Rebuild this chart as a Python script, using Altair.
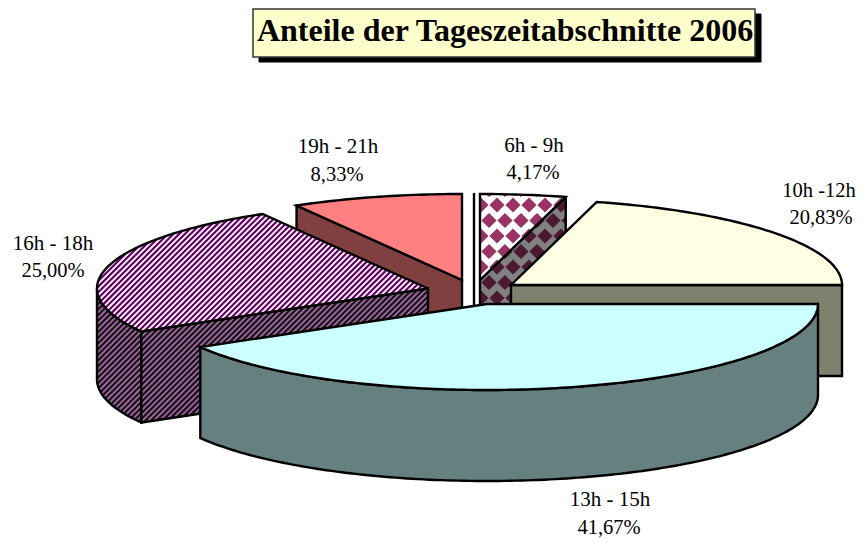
import numpy as np
import altair as alt

# ---- chart values ----
periods = ["6h - 9h", "10h -12h", "13h - 15h", "16h - 18h", "19h - 21h"]
shares = [4.17, 20.83, 41.67, 25.00, 8.33]
share_labels = ["4,17%", "20,83%", "41,67%", "25,00%", "8,33%"]
title_text = "Anteile der Tageszeitabschnitte 2006"

# ---- layout (image pixels) ----
OX, OY = 8, 8
RX, RY, DEPTH = 331, 86, 91
apex = [(480, 280), (511, 285), (487, 304), (428, 288.5), (462, 280)]
label_xy = [(534, 146), (819, 191), (610, 500), (53, 244), (338, 147)]
pct_xy = [(533, 173), (821, 218), (609, 528), (53, 271), (337, 174.5)]
top_fill = ["#FFFFFF", "#FFFFE3", "#CCFFFF", "#FFFFFF", "#FF8080"]
side_fill = ["#808080", "#80806F", "#668080", "#808080", "#804040"]
edges = np.cumsum([0] + shares) / sum(shares) * 360
LW = 2.4


def pt(i, deg, drop=0):
    a = np.radians(deg)
    return (apex[i][0] + RX * np.sin(a), apex[i][1] - RY * np.cos(a) + drop)


def arc(i, d0, d1, drop=0):
    n = max(2, int(abs(d1 - d0)) + 1)
    return [pt(i, d, drop) for d in np.linspace(d0, d1, n)]


def top(i):
    return [apex[i]] + arc(i, edges[i], edges[i + 1])


def wall(i, d0, d1):
    return arc(i, d0, d1) + arc(i, d1, d0, DEPTH)


def cut(i, deg):
    p = pt(i, deg)
    a = apex[i]
    return [p, a, (a[0], a[1] + DEPTH), (p[0], p[1] + DEPTH)]


def shift(pts):
    return [[float(x - OX), float(y - OY)] for x, y in pts]


features = []


def poly(pts, fill, stroke="#000000", sw=LW):
    p = shift(pts)
    features.append({"type": "Feature",
                     "geometry": {"type": "Polygon", "coordinates": [p + [p[0]]]},
                     "properties": {"fill": fill, "stroke": stroke, "sw": sw}})


def multipoly(polys, fill):
    cs = [[shift(p) + [shift(p)[0]]] for p in polys if len(p) > 2]
    features.append({"type": "Feature",
                     "geometry": {"type": "MultiPolygon", "coordinates": cs},
                     "properties": {"fill": fill, "stroke": "transparent", "sw": 0}})


def outline(pts, closed=True):
    p = shift(pts)
    if closed:
        p = p + [p[0]]
    features.append({"type": "Feature",
                     "geometry": {"type": "LineString", "coordinates": p},
                     "properties": {"fill": "transparent", "stroke": "#000000", "sw": LW}})


def hatch(pts, color, pitch=5.66, width=2.2):
    """45 degree stripes clipped to a polygon (even-odd)."""
    arr = np.array(pts, dtype=float)
    s = arr[:, 0] + arr[:, 1]
    segs = []
    for c in np.arange(np.floor(s.min() / pitch) * pitch, s.max() + pitch, pitch):
        hits = []
        for k in range(len(arr)):
            a, b = arr[k], arr[(k + 1) % len(arr)]
            sa, sb = a.sum() - c, b.sum() - c
            if sa * sb < 0:
                t = sa / (sa - sb)
                hits.append(tuple(a + t * (b - a)))
        hits.sort()
        for h in range(0, len(hits) - 1, 2):
            segs.append(shift([hits[h], hits[h + 1]]))
    features.append({"type": "Feature",
                     "geometry": {"type": "MultiLineString", "coordinates": segs},
                     "properties": {"fill": "transparent", "stroke": color, "sw": width}})


def clip_convex(subject, clipper):
    arr = np.array(clipper, dtype=float)
    area = 0.5 * np.sum(arr[:, 0] * np.roll(arr[:, 1], -1) - np.roll(arr[:, 0], -1) * arr[:, 1])
    sign = 1 if area > 0 else -1
    out = list(subject)
    for k in range(len(arr)):
        a, b = arr[k], arr[(k + 1) % len(arr)]
        inside = lambda q: sign * ((b[0] - a[0]) * (q[1] - a[1]) - (b[1] - a[1]) * (q[0] - a[0])) >= 0
        new = []
        for m in range(len(out)):
            p, q = np.array(out[m]), np.array(out[(m + 1) % len(out)])
            ip, iq = inside(p), inside(q)
            if ip:
                new.append(tuple(p))
            if ip != iq:
                dp = sign * ((b[0] - a[0]) * (p[1] - a[1]) - (b[1] - a[1]) * (p[0] - a[0]))
                dq = sign * ((b[0] - a[0]) * (q[1] - a[1]) - (b[1] - a[1]) * (q[0] - a[0]))
                new.append(tuple(p + dp / (dp - dq) * (q - p)))
        out = new
        if not out:
            break
    return out


def diamonds(pts, color, hw=7.6):
    polys = []
    for r in range(-2, 24):
        y = 205 + (r * 15.5)
        off = 0 if r % 2 == 0 else -8
        for c in range(-2, 10):
            x = 497 + off + c * 16
            d = [(x - hw, y), (x, y - hw), (x + hw, y), (x, y + hw)]
            cl = clip_convex(d, pts)
            if len(cl) > 2:
                polys.append(cl)
    multipoly(polys, color)


# ---- title box (the page margin keeps it below y=8) ----
tb = [(253, 9), (755, 9), (755, 57), (253, 57)]
poly([(x + 6, y + 5) for x, y in tb], "#000000", "#000000", 1)
poly(tb, "#FFFFCC", "#333333", 1.5)

# ---- slices, back to front ----
# 19h - 21h
poly(cut(4, edges[4]), side_fill[4])
poly(top(4), top_fill[4])

# 6h - 9h
q = cut(0, edges[1])
poly(q, side_fill[0], "transparent", 0)
diamonds(q, "#4C1933")
outline(q)
t = top(0)
poly(t, top_fill[0], "transparent", 0)
diamonds(t, "#993366")
outline(t)
outline([(474, 193), (474, 306)], closed=False)

# 10h - 12h
poly(cut(1, edges[2]), side_fill[1])
poly(top(1), top_fill[1])

# 16h - 18h
w = wall(3, edges[3], 270)
poly(w, side_fill[3], "transparent", 0)
hatch(w, "#330033")
outline(w)
q = cut(3, edges[3])
poly(q, side_fill[3], "transparent", 0)
hatch(q, "#330033")
outline(q)
t = top(3)
poly(t, top_fill[3], "transparent", 0)
hatch(t, "#660066")
outline(t)

# 13h - 15h
poly(wall(2, edges[2], edges[3]), side_fill[2])
poly(top(2), top_fill[2])

shapes = alt.Chart(alt.Data(values=features)).mark_geoshape(strokeJoin="miter", strokeMiterLimit=8).encode(
    fill=alt.Fill("properties.fill:N", scale=None),
    stroke=alt.Stroke("properties.stroke:N", scale=None),
    strokeWidth=alt.StrokeWidth("properties.sw:Q", scale=None),
).project(type="identity", scale=1, translate=[0, 0])

rows = []
for i, (name, lab) in enumerate(zip(periods, share_labels)):
    rows.append({"x": label_xy[i][0] - OX, "y": label_xy[i][1] - OY, "t": name, "s": 20.5 if i == 1 else 21})
    rows.append({"x": pct_xy[i][0] - OX, "y": pct_xy[i][1] - OY, "t": lab, "s": 20.5})

labels = alt.Chart(alt.Data(values=rows)).mark_text(
    font="Liberation Serif", color="#000000", align="center", baseline="middle"
).encode(
    x=alt.X("x:Q", scale=None, axis=None),
    y=alt.Y("y:Q", scale=None, axis=None),
    size=alt.Size("s:Q", scale=None),
    text="t:N",
)

title = alt.Chart(alt.Data(values=[{"x": 505 - OX, "y": 31 - OY, "t": title_text}])).mark_text(
    font="Liberation Serif", fontSize=32, fontWeight="bold", color="#000000", align="center", baseline="middle"
).encode(
    x=alt.X("x:Q", scale=None, axis=None),
    y=alt.Y("y:Q", scale=None, axis=None),
    text="t:N",
)

chart = alt.layer(shapes, labels, title).properties(
    width=850, height=535, padding=0, autosize=alt.AutoSizeParams(type="none")
).configure_view(stroke=None)

chart.save("out.html", embed_options={"renderer": "svg", "actions": False})
